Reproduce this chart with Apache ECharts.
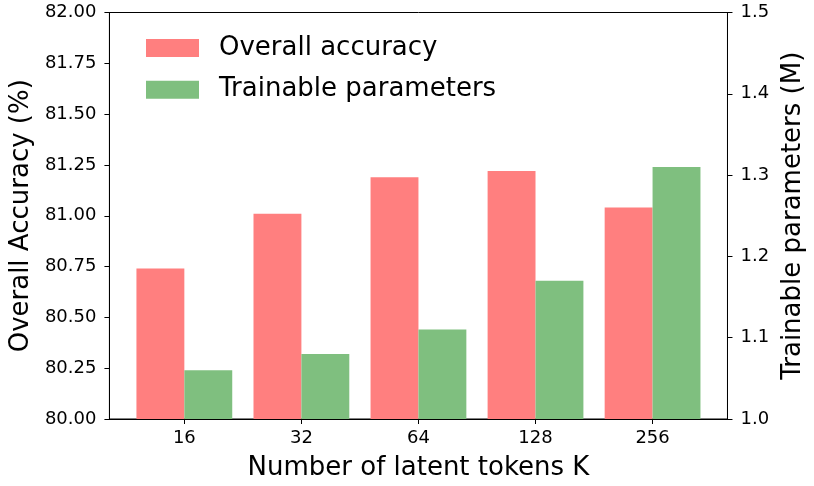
<!DOCTYPE html>
<html>
<head>
<meta charset="utf-8">
<script src="https://cdn.jsdelivr.net/npm/echarts@6/dist/echarts.min.js"></script>
<style>
html,body{margin:0;padding:0;background:#fff;}
#c{width:814px;height:486px;}
</style>
</head>
<body>
<div id="c"></div>
<script>
const categories = ['16', '32', '64', '128', '256'];
const accuracy = [80.74, 81.01, 81.19, 81.22, 81.04];
const params = [1.06, 1.08, 1.11, 1.17, 1.31];
const leftTicks = [80.00, 80.25, 80.50, 80.75, 81.00, 81.25, 81.50, 81.75, 82.00];
const rightTicks = [1.0, 1.1, 1.2, 1.3, 1.4, 1.5];

const FONT = 'DejaVu Sans';
const chart = echarts.init(document.getElementById('c'), null, {renderer: 'canvas'});
const idx = categories.map((_, i) => i);

chart.setOption({
  animation: false,
  backgroundColor: '#fff',
  textStyle: {fontFamily: FONT, color: '#000'},
  grid: {
    left: 104.3, right: 78, top: 12.5, bottom: 63.7,
    show: true, borderColor: '#000', borderWidth: 1, backgroundColor: 'transparent'
  },
  legend: {
    orient: 'vertical', left: 146, top: 35, padding: 0,
    itemWidth: 53, itemHeight: 18, itemGap: 15.7, icon: 'rect',
    textStyle: {fontFamily: FONT, fontSize: 26, color: '#000', padding: [0, 0, 0, 15]},
    data: ['Overall accuracy', 'Trainable parameters']
  },
  xAxis: {
    type: 'value', min: -0.64, max: 4.64,
    name: 'Number of latent tokens K', nameLocation: 'middle', nameGap: 36,
    nameTextStyle: {fontFamily: FONT, fontSize: 26, color: '#000'},
    axisLine: {show: true, onZero: false, lineStyle: {color: '#000', width: 1}},
    axisTick: {show: true, length: 5, lineStyle: {color: '#000'}, customValues: idx},
    axisLabel: {
      fontFamily: FONT, fontSize: 18, color: '#000', margin: 10, customValues: idx,
      formatter: v => categories[Math.round(v)]
    },
    splitLine: {show: false}
  },
  yAxis: [
    {
      type: 'value', position: 'left', min: leftTicks[0], max: leftTicks[leftTicks.length - 1], interval: 0.25,
      name: 'Overall Accuracy (%)', nameLocation: 'middle', nameGap: 75,
      nameTextStyle: {fontFamily: FONT, fontSize: 26, color: '#000'},
      axisLine: {show: true, onZero: false, lineStyle: {color: '#000', width: 1}},
      axisTick: {show: true, length: 5, lineStyle: {color: '#000'}},
      axisLabel: {fontFamily: FONT, fontSize: 18, color: '#000', margin: 13, formatter: v => v.toFixed(2)},
      splitLine: {show: false}
    },
    {
      type: 'value', position: 'right', min: rightTicks[0], max: rightTicks[rightTicks.length - 1], interval: 0.1,
      name: 'Trainable parameters (M)', nameLocation: 'middle', nameGap: 50,
      nameTextStyle: {fontFamily: FONT, fontSize: 26, color: '#000'},
      axisLine: {show: true, onZero: false, lineStyle: {color: '#000', width: 1}},
      axisTick: {show: true, length: 5, lineStyle: {color: '#000'}},
      axisLabel: {fontFamily: FONT, fontSize: 18, color: '#000', margin: 13, formatter: v => v.toFixed(1)},
      splitLine: {show: false}
    }
  ],
  series: [
    {
      name: 'Overall accuracy', type: 'bar', yAxisIndex: 0,
      barWidth: 47.9, barGap: '0%',
      itemStyle: {color: '#ff7f7f'},
      data: accuracy.map((v, i) => [i, v])
    },
    {
      name: 'Trainable parameters', type: 'bar', yAxisIndex: 1,
      barWidth: 47.9, barGap: '0%',
      itemStyle: {color: '#7fbf7f'},
      data: params.map((v, i) => [i, v])
    }
  ]
});
</script>
</body>
</html>
